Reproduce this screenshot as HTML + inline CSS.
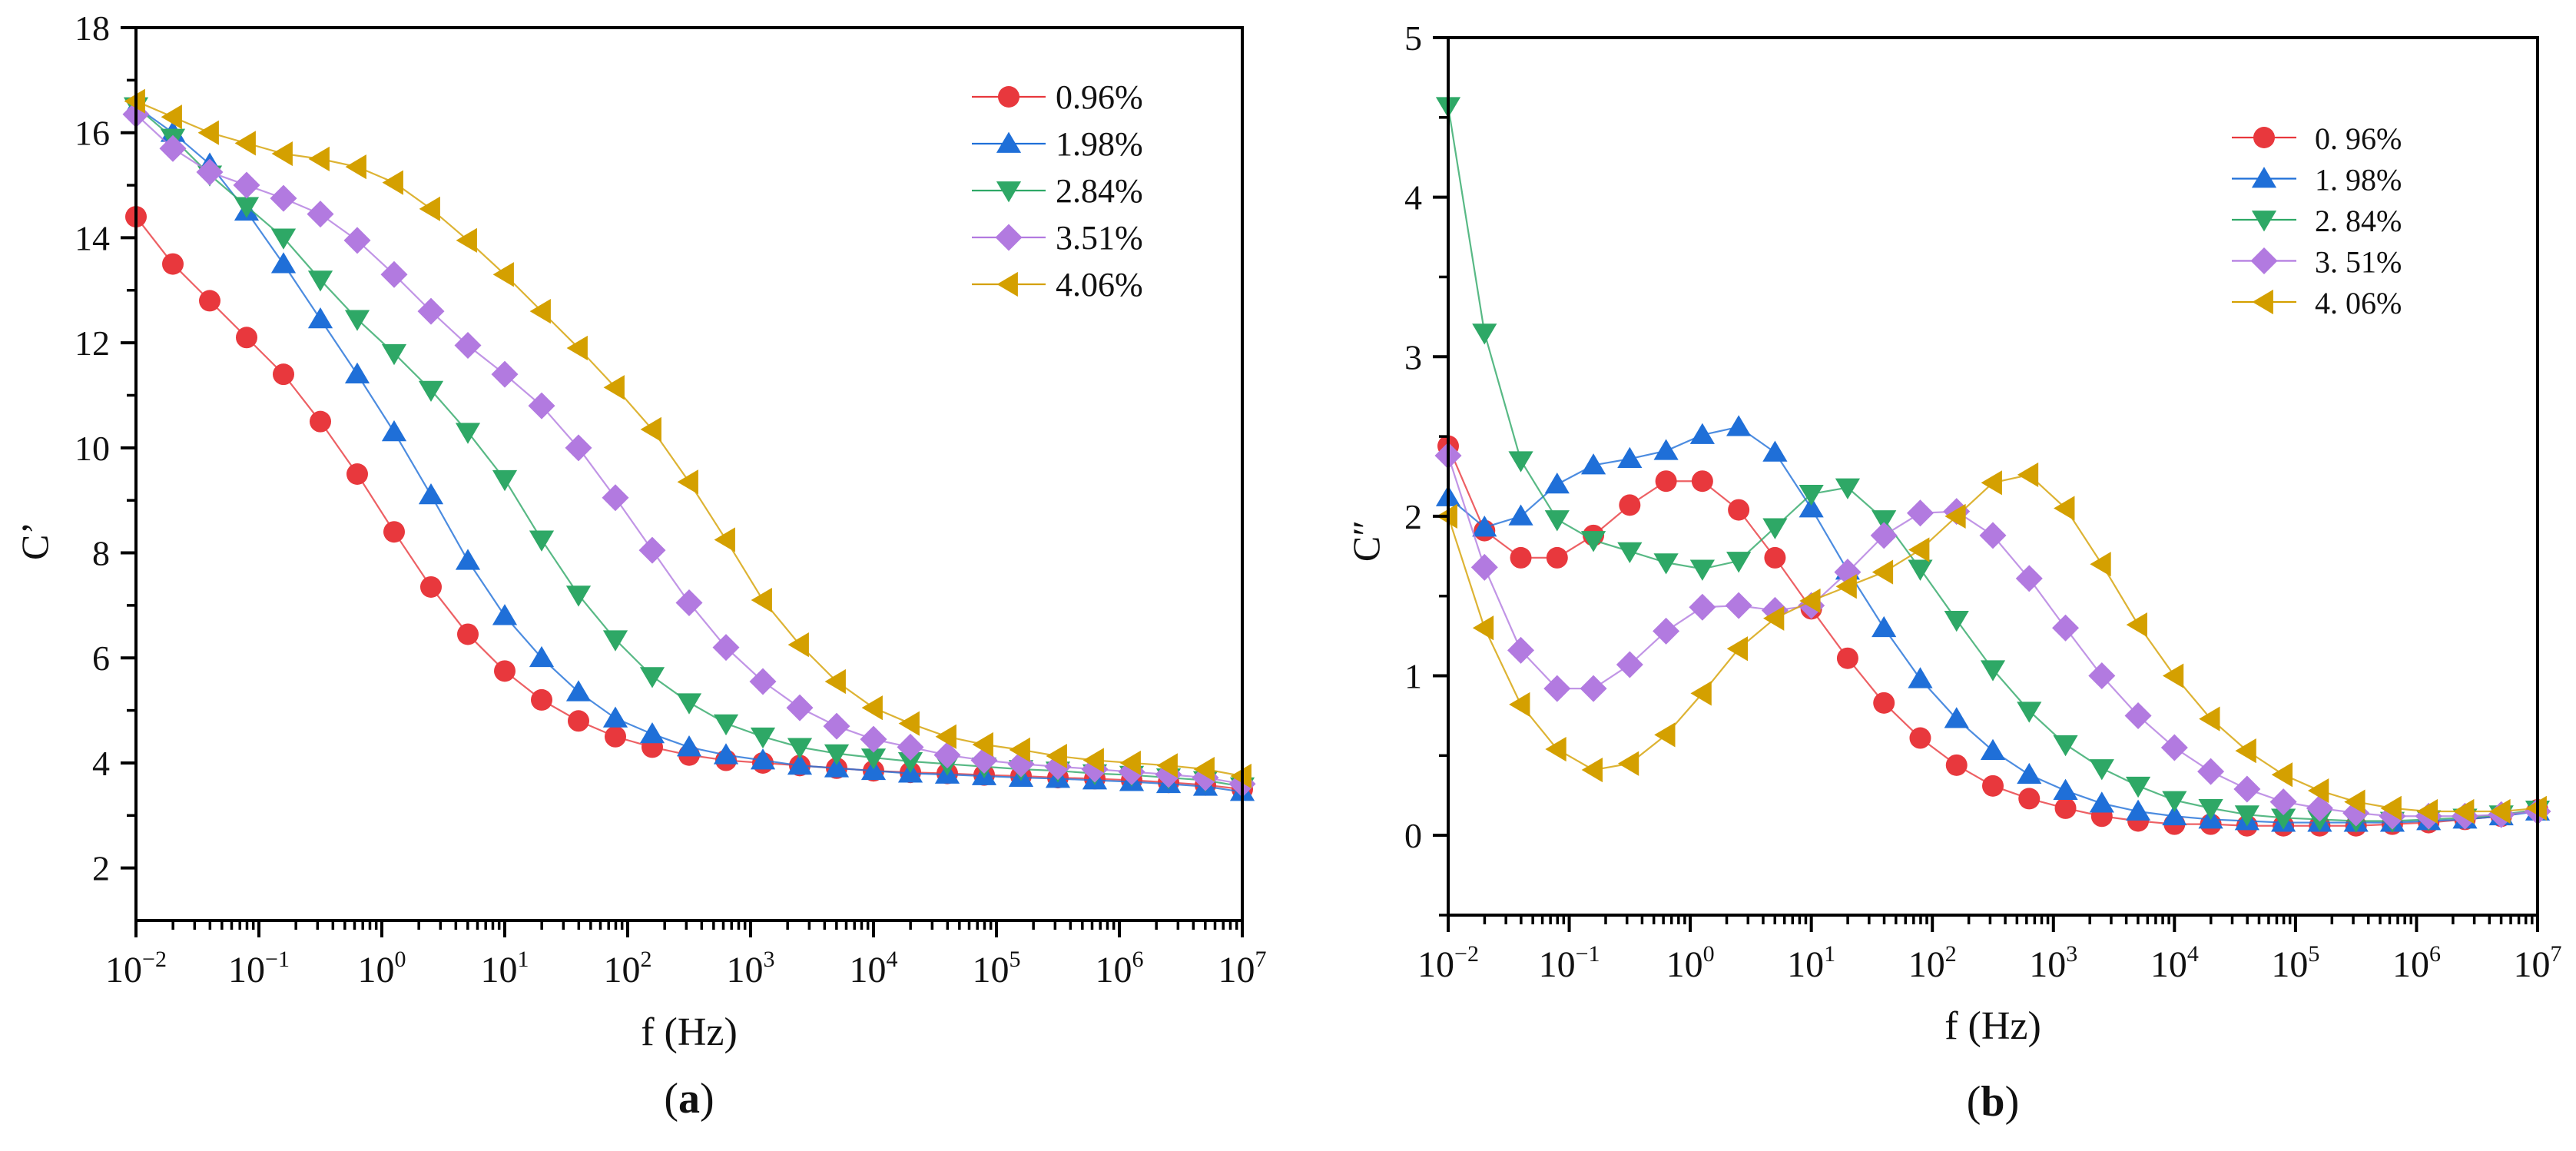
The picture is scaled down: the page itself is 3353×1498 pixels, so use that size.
<!DOCTYPE html>
<html><head><meta charset="utf-8">
<style>
html,body{margin:0;padding:0;background:#fff;}
svg{display:block;}
text{font-family:"Liberation Serif","Noto Serif CJK SC",serif;fill:#111;}
</style></head>
<body>
<svg id="chart" width="3353" height="1498" viewBox="0 0 3353 1498" xmlns="http://www.w3.org/2000/svg"></svg>
<script>
const seriesNames = ["0.96%","1.98%","2.84%","3.51%","4.06%"];
const seriesNamesB = ["0. 96%","1. 98%","2. 84%","3. 51%","4. 06%"];
const seriesColors = ["#e8383d","#1f6fd8","#2ea866","#b27ae0","#d4a000"];
const seriesMarkers = ["circle","up","down","diamond","left"];
const logFreqStart = -2, logFreqStep = 0.3;
const decadeTicks = [-2,-1,0,1,2,3,4,5,6,7];
const ticksA = [2,4,6,8,10,12,14,16,18];
const ticksB = [0,1,2,3,4,5];

const cReal096 = [14.4,13.5,12.8,12.1,11.4,10.5,9.5,8.4,7.35,6.45,5.75,5.2,4.8,4.5,4.3,4.15,4.05,4.0,3.95,3.9,3.85,3.82,3.8,3.77,3.75,3.72,3.7,3.67,3.63,3.58,3.5];
const cReal198 = [16.5,16.0,15.4,14.5,13.5,12.45,11.4,10.3,9.1,7.85,6.8,6.0,5.35,4.85,4.55,4.3,4.15,4.05,3.95,3.9,3.85,3.8,3.78,3.75,3.72,3.7,3.67,3.64,3.6,3.55,3.45];
const cReal284 = [16.5,15.9,15.2,14.6,14.0,13.2,12.45,11.8,11.1,10.3,9.4,8.25,7.2,6.35,5.65,5.15,4.75,4.5,4.3,4.18,4.1,4.03,3.98,3.93,3.88,3.85,3.8,3.77,3.72,3.67,3.55];
const cReal351 = [16.35,15.7,15.25,15.0,14.75,14.45,13.95,13.3,12.6,11.95,11.4,10.8,10.0,9.05,8.05,7.05,6.2,5.55,5.05,4.7,4.45,4.3,4.15,4.05,3.98,3.93,3.88,3.83,3.78,3.72,3.6];
const cReal406 = [16.6,16.3,16.0,15.8,15.6,15.5,15.35,15.05,14.55,13.95,13.3,12.6,11.9,11.15,10.35,9.35,8.25,7.1,6.25,5.55,5.05,4.75,4.5,4.35,4.25,4.13,4.05,4.0,3.95,3.88,3.75];

const cImag096 = [2.44,1.91,1.74,1.74,1.88,2.07,2.22,2.22,2.04,1.74,1.42,1.11,0.83,0.61,0.44,0.31,0.23,0.17,0.12,0.09,0.07,0.07,0.06,0.06,0.06,0.06,0.07,0.08,0.1,0.12,0.16];
const cImag198 = [2.12,1.93,2.0,2.2,2.32,2.36,2.41,2.51,2.56,2.4,2.05,1.66,1.3,0.98,0.73,0.53,0.38,0.28,0.2,0.15,0.12,0.1,0.09,0.08,0.08,0.08,0.08,0.09,0.1,0.12,0.15];
const cImag284 = [4.57,3.15,2.35,1.98,1.85,1.78,1.71,1.67,1.72,1.93,2.14,2.18,1.98,1.67,1.35,1.04,0.78,0.57,0.42,0.31,0.22,0.17,0.13,0.11,0.1,0.09,0.09,0.1,0.11,0.13,0.16];
const cImag351 = [2.38,1.68,1.16,0.92,0.92,1.07,1.28,1.43,1.44,1.41,1.44,1.65,1.88,2.02,2.03,1.88,1.61,1.3,1.0,0.75,0.55,0.4,0.29,0.21,0.17,0.14,0.12,0.12,0.12,0.13,0.15];
const cImag406 = [2.0,1.3,0.82,0.54,0.41,0.45,0.63,0.89,1.17,1.36,1.47,1.56,1.65,1.79,2.0,2.21,2.26,2.05,1.7,1.32,1.0,0.73,0.53,0.38,0.28,0.21,0.17,0.15,0.15,0.15,0.17];

const NS="http://www.w3.org/2000/svg";
const svg=document.getElementById('chart');
function el(tag,attrs,parent){const e=document.createElementNS(NS,tag);for(const k in attrs)e.setAttribute(k,attrs[k]);(parent||svg).appendChild(e);return e;}

function drawPanel(cfg){
  const g=el('g',{});
  
  
  const X=lf=>cfg.x0+(lf-(-2))/9*(cfg.x1-cfg.x0);
  const Y=v=>cfg.y1-(v-cfg.ymin)/(cfg.ymax-cfg.ymin)*(cfg.y1-cfg.y0);
  // series
  cfg.data.forEach((arr,si)=>{
    const sg=el('g',{},g);
    
    
    const pts=arr.map((v,i)=>[X(logFreqStart+logFreqStep*i),Y(v)]);
    const pl=el('polyline',{points:pts.map(p=>p.join(',')).join(' '),fill:'none',stroke:seriesColors[si],'stroke-width':2.2,'stroke-opacity':0.8},sg);
    
    
    pts.forEach(p=>{const m=marker(sg,seriesMarkers[si],p[0],p[1],seriesColors[si],14);
      
      });
  });
  // frame
  const fr=el('rect',{x:cfg.x0,y:cfg.y0,width:cfg.x1-cfg.x0,height:cfg.y1-cfg.y0,fill:'none',stroke:'#000','stroke-width':4},g);
  
  
  // x ticks
  const xa=el('g',{},g);
  
  
  decadeTicks.forEach(d=>{
    const x=X(d);
    el('line',{x1:x,y1:cfg.y1,x2:x,y2:cfg.y1+22,stroke:'#000','stroke-width':4},xa);
    const t=el('text',{x:x,y:cfg.y1+80,'font-size':48,'text-anchor':'middle'},xa);
    
    
    const a=el('tspan',{},t);a.textContent='10';
    const b=el('tspan',{dy:-20,'font-size':30},t);b.textContent=(d<0?'\u2212':'')+Math.abs(d);
    if(d<7){for(let k=2;k<=9;k++){const xm=X(d+Math.log10(k));el('line',{x1:xm,y1:cfg.y1,x2:xm,y2:cfg.y1+12,stroke:'#000','stroke-width':3.5},xa);}}
  });
  // y ticks
  const ya=el('g',{},g);
  
  
  cfg.ticks.forEach(v=>{
    const y=Y(v);
    el('line',{x1:cfg.x0-20,y1:y,x2:cfg.x0,y2:y,stroke:'#000','stroke-width':4},ya);
    const t=el('text',{x:cfg.x0-34,y:y+16,'font-size':46,'text-anchor':'end'},ya);
    
    
    t.textContent=String(v);
  });
  cfg.minor.forEach(v=>{const y=Y(v);el('line',{x1:cfg.x0-12,y1:y,x2:cfg.x0,y2:y,stroke:'#000','stroke-width':3.5},ya);});
  // titles
  const yt=el('text',{x:0,y:0,'font-size':50,'text-anchor':'middle',transform:`translate(${cfg.ylx},${cfg.yly}) rotate(-90)`},g);
  
  
  yt.textContent=cfg.ytitle;
  const xt=el('text',{x:(cfg.x0+cfg.x1)/2,y:cfg.xty,'font-size':52,'text-anchor':'middle'},g);
  
  
  xt.textContent='f (Hz)';
  const pt=el('text',{x:(cfg.x0+cfg.x1)/2,y:cfg.pty,'font-size':56,'text-anchor':'middle'},g);
  
  
  const p1=el('tspan',{},pt);p1.textContent='(';
  const p2=el('tspan',{'font-weight':'bold'},pt);p2.textContent=cfg.panel;
  const p3=el('tspan',{},pt);p3.textContent=')';
  // legend
  const lg=el('g',{},g);
  
  
  cfg.labels.forEach((lab,i)=>{
    const ly=cfg.legY+i*cfg.legDy;
    const eg=el('g',{},lg);
    
    
    el('line',{x1:cfg.legX,y1:ly,x2:cfg.legX+cfg.legW,y2:ly,stroke:seriesColors[i],'stroke-width':2.2},eg);
    marker(eg,seriesMarkers[i],cfg.legX+cfg.legW/2,ly,seriesColors[i],14);
    const t=el('text',{x:cfg.legTx,y:ly+15,'font-size':cfg.legFont},eg);
    t.textContent=lab;
  });
}

function marker(parent,type,x,y,c,r){
  if(type==='circle')return el('circle',{cx:x,cy:y,r:r,fill:c},parent);
  let p;
  if(type==='up')p=[[x,y-r*1.1],[x+r*1.15,y+r*0.85],[x-r*1.15,y+r*0.85]];
  else if(type==='down')p=[[x,y+r*1.1],[x+r*1.15,y-r*0.85],[x-r*1.15,y-r*0.85]];
  else if(type==='left')p=[[x-r*1.1,y],[x+r*0.85,y-r*1.15],[x+r*0.85,y+r*1.15]];
  else p=[[x,y-r*1.25],[x+r*1.25,y],[x,y+r*1.25],[x-r*1.25,y]];
  return el('polygon',{points:p.map(q=>q.join(',')).join(' '),fill:c},parent);
}

drawPanel({name:'panel-a',panel:'a',x0:177,x1:1617,y0:36,y1:1198,ymin:1,ymax:18,
  ticks:ticksA,minor:[3,5,7,9,11,13,15,17],
  data:[cReal096,cReal198,cReal284,cReal351,cReal406],labels:seriesNames,
  ytitle:'C\u2019',ylx:62,yly:704,xty:1360,pty:1448,
  legX:1265,legW:96,legTx:1374,legY:126,legDy:61,legFont:44});
drawPanel({name:'panel-b',panel:'b',x0:1885,x1:3303,y0:49,y1:1191,ymin:-0.5,ymax:5,
  ticks:ticksB,minor:[-0.5,0.5,1.5,2.5,3.5,4.5],
  data:[cImag096,cImag198,cImag284,cImag351,cImag406],labels:seriesNamesB,
  ytitle:'C\u2033',ylx:1795,yly:704,xty:1352,pty:1452,
  legX:2905,legW:84,legTx:3013,legY:179,legDy:53.5,legFont:40});
</script>
</body></html>
